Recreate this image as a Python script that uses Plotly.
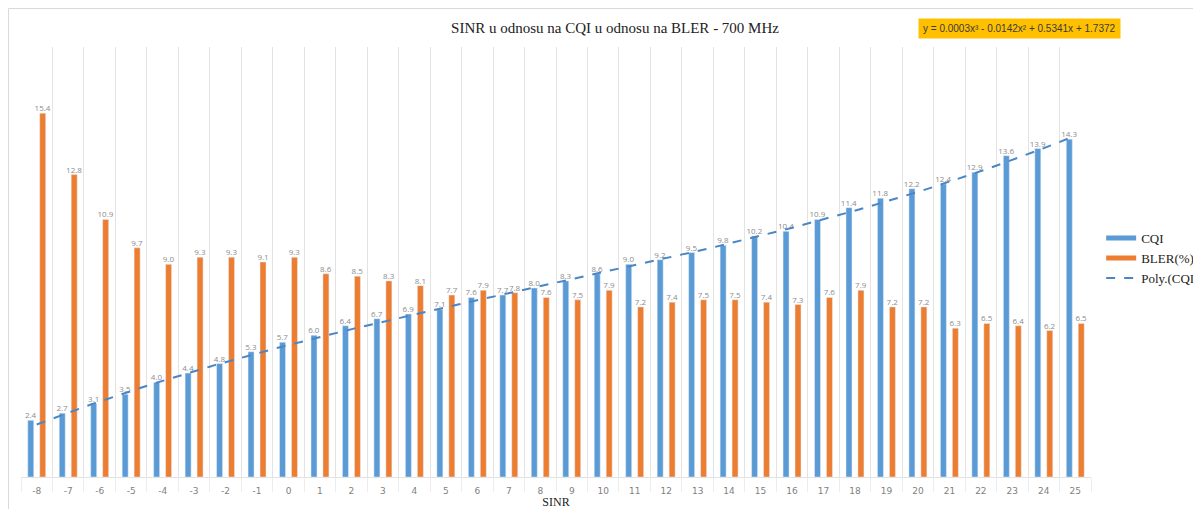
import numpy as np
import plotly.graph_objects as go

sinr = list(range(-8, 26))
cqi = [2.4, 2.7, 3.1, 3.5, 4.0, 4.4, 4.8, 5.3, 5.7, 6.0, 6.4, 6.7, 6.9, 7.1, 7.6, 7.7, 8.0,
       8.3, 8.6, 9.0, 9.2, 9.5, 9.8, 10.2, 10.4, 10.9, 11.4, 11.8, 12.2, 12.4, 12.9, 13.6, 13.9, 14.3]
bler = [15.4, 12.8, 10.9, 9.7, 9.0, 9.3, 9.3, 9.1, 9.3, 8.6, 8.5, 8.3, 8.1, 7.7, 7.9, 7.8, 7.6,
        7.5, 7.9, 7.2, 7.4, 7.5, 7.5, 7.4, 7.3, 7.6, 7.9, 7.2, 7.2, 6.3, 6.5, 6.4, 6.2, 6.5]

title = "SINR u odnosu na CQI u odnosu na BLER - 700 MHz"
equation = "y = 0.0003x³ - 0.0142x² + 0.5341x + 1.7372"

BLUE = "#5B9BD5"
ORANGE = "#ED7D31"
TREND = "#4A86C5"
LABEL = "#8C8C8C"
SERIF = "Liberation Serif, Times New Roman, serif"

# polynomial (order 3) trendline fitted to the CQI series, as Excel does
idx = np.arange(1, len(sinr) + 1)
coef = np.polyfit(idx, cqi, 3)
fine_idx = np.linspace(1, len(sinr), 300)
fine_x = sinr[0] + (fine_idx - 1)
trend = np.polyval(coef, fine_idx)

fig = go.Figure()
fig.add_trace(go.Bar(
    x=sinr, y=cqi, name="CQI", marker_color=BLUE, showlegend=False,
    text=[f"{v:.1f}" for v in cqi], textposition="outside", constraintext="none",
    textfont=dict(size=8, color=LABEL), cliponaxis=False))
fig.add_trace(go.Bar(
    x=sinr, y=bler, name="BLER(%)", marker_color=ORANGE, showlegend=False,
    text=[f"{v:.1f}" for v in bler], textposition="outside", constraintext="none",
    textfont=dict(size=8, color=LABEL), cliponaxis=False))
fig.add_trace(go.Scatter(
    x=fine_x, y=trend, mode="lines", name="Poly.(CQI)", showlegend=False,
    line=dict(color=TREND, width=2, dash="dash"), hoverinfo="skip"))

# legend-only entries (wide line swatches as in the original)
fig.add_trace(go.Scatter(x=[None], y=[None], mode="lines", name="CQI",
                         line=dict(color=BLUE, width=5)))
fig.add_trace(go.Scatter(x=[None], y=[None], mode="lines", name="BLER(%)",
                         line=dict(color=ORANGE, width=5)))
fig.add_trace(go.Scatter(x=[None], y=[None], mode="lines", name="Poly.(CQI)",
                         line=dict(color=TREND, width=2, dash="dash")))

fig.update_layout(
    width=1193, height=501,
    margin=dict(l=13, r=110, t=39, b=32, autoexpand=False),
    paper_bgcolor="white", plot_bgcolor="white",
    barmode="group", bargap=0.24, bargroupgap=0.5,
    title=dict(text=title, x=607 / 1193, xanchor="center", y=1 - 20 / 501, yanchor="middle",
               font=dict(family=SERIF, size=15, color="#222222")),
    legend=dict(x=1.0095, xanchor="left", y=0.509, yanchor="middle",
                font=dict(family=SERIF, size=13, color="#222222"),
                bgcolor="rgba(0,0,0,0)", itemwidth=30, tracegroupgap=0),
    showlegend=True,
    xaxis=dict(
        range=[-8.5, 25.5], tickmode="array", tickvals=sinr,
        ticktext=[str(s) for s in sinr], showgrid=False, zeroline=False,
        tickfont=dict(size=9, color="#7F7F7F", family="DejaVu Sans"),
        ticklabelstandoff=5,
        showline=True, linecolor="#E3E3E3", ticks="",
        minor=dict(tick0=-8.5, dtick=1, showgrid=True, gridcolor="#E3E3E3", gridwidth=1,
                   ticks="outside", ticklen=14, tickcolor="#EDEDED"),
        title=dict(text="SINR", font=dict(family=SERIF, size=12, color="#222222"), standoff=7)),
    yaxis=dict(range=[0, 18.2], visible=False, showgrid=False, zeroline=False),
    annotations=[dict(
        text=equation, xref="paper", yref="paper", x=0.9336, y=1.044,
        xanchor="center", yanchor="middle", showarrow=False,
        bgcolor="#FFC000", borderpad=4,
        font=dict(size=10, color="#3A3A3A", family="Liberation Sans Narrow, Arial Narrow, sans-serif"))],
    shapes=[dict(type="rect", xref="paper", yref="paper", x0=-0.0117, x1=1.25, y0=-0.3, y1=1.0895,
                 line=dict(color="#D9D9D9", width=1), fillcolor="rgba(0,0,0,0)", layer="below")],
)

fig.write_html("out.html")
